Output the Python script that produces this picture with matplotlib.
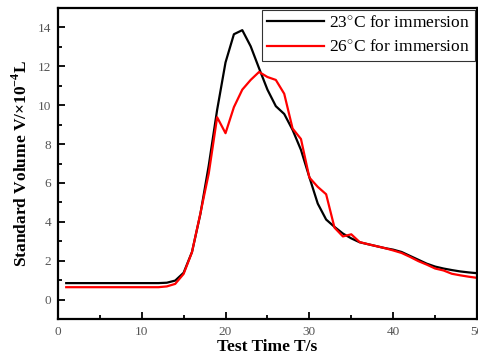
import matplotlib.pyplot as plt
from matplotlib.ticker import MultipleLocator

plt.rcParams['font.family'] = ['Liberation Serif', 'DejaVu Serif']
plt.rcParams['mathtext.fontset'] = 'custom'
plt.rcParams['mathtext.rm'] = 'Liberation Serif'
plt.rcParams['mathtext.bf'] = 'Liberation Serif:bold'

# 시간 (s)
t = list(range(1, 51))

# 23도 침지
v_23 = [0.85, 0.85, 0.85, 0.85, 0.85, 0.85, 0.85, 0.85, 0.85, 0.85,
        0.85, 0.85, 0.87, 0.98, 1.38, 2.45, 4.4, 6.9, 9.76, 12.2,
        13.65, 13.86, 13.03, 11.9, 10.8, 9.95, 9.55, 8.73, 7.7, 6.3,
        4.94, 4.12, 3.74, 3.4, 3.15, 2.95, 2.85, 2.75, 2.65, 2.57,
        2.45, 2.25, 2.05, 1.85, 1.7, 1.6, 1.52, 1.45, 1.4, 1.36]

# 26도 침지
v_26 = [0.64, 0.64, 0.64, 0.64, 0.64, 0.64, 0.64, 0.64, 0.64, 0.64,
        0.64, 0.64, 0.68, 0.81, 1.32, 2.44, 4.43, 6.49, 9.38, 8.56,
        9.9, 10.8, 11.3, 11.71, 11.45, 11.3, 10.59, 8.8, 8.26, 6.28,
        5.8, 5.42, 3.7, 3.25, 3.36, 2.96, 2.85, 2.75, 2.65, 2.53,
        2.4, 2.2, 1.98, 1.8, 1.6, 1.5, 1.33, 1.25, 1.18, 1.12]

fig = plt.figure(figsize=(4.78, 3.63), dpi=100)
ax = fig.add_axes([0.121, 0.121, 0.877, 0.857])

ax.plot(t, v_23, color='black', lw=1.6, label='23$^{\\circ}$C for immersion')
ax.plot(t, v_26, color='#ff0000', lw=1.6, label='26$^{\\circ}$C for immersion')

ax.set_xlim(0, 50)
ax.set_ylim(-1, 15)
ax.xaxis.set_major_locator(MultipleLocator(10))
ax.xaxis.set_minor_locator(MultipleLocator(5))
ax.yaxis.set_major_locator(MultipleLocator(2))
ax.yaxis.set_minor_locator(MultipleLocator(1))
ax.tick_params(which='both', direction='in', colors='black', labelcolor='#555555',
               labelsize=9.5, width=1.3, top=False, right=False)
ax.tick_params(which='major', length=5, pad=5)
ax.tick_params(which='minor', length=3)
for s in ax.spines.values():
    s.set_linewidth(1.6)

ax.set_xlabel('Test Time T/s', fontsize=12.5, fontweight='bold', labelpad=1)
ax.set_ylabel('Standard Volume V/\u00d710$^{\\mathbf{-4}}$L', fontsize=12.5,
              fontweight='bold', labelpad=5)

leg = ax.legend(loc='upper right', fontsize=12.5, frameon=True, fancybox=False,
                edgecolor='black', borderpad=0.3, handlelength=3.3, handletextpad=0.3,
                labelspacing=0.45, borderaxespad=0.1)
leg.get_frame().set_linewidth(0.8)

plt.savefig('out.png', dpi=100)
